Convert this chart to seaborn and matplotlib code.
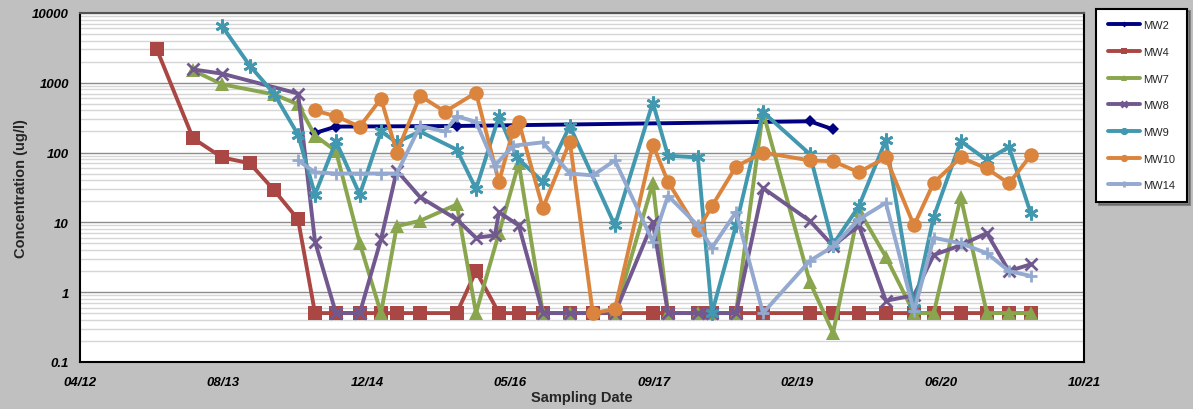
import pandas as pd
import matplotlib
matplotlib.use('Agg')
import matplotlib.pyplot as plt
import matplotlib.dates as mdates
from matplotlib.ticker import LogLocator, FuncFormatter, NullFormatter
import seaborn as sns

# Sampling data (concentration in ug/l)
mw2_dates = ['2014-06-29', '2014-09-10', '2015-11-05', '2019-03-19', '2019-06-08']
mw2_vals = [190, 235, 240, 280, 215]

mw4_dates = ['2012-12-25', '2013-04-30', '2013-08-09', '2013-11-14', '2014-02-06', '2014-05-01',
             '2014-06-29', '2014-09-10', '2014-12-02', '2015-02-14', '2015-04-10', '2015-06-30',
             '2015-11-05', '2016-01-11', '2016-03-31', '2016-06-08', '2016-08-31', '2016-12-03',
             '2017-02-21', '2017-05-09', '2017-09-18', '2017-11-10', '2018-02-22', '2018-04-12',
             '2018-07-05', '2018-10-07', '2019-03-19', '2019-06-08', '2019-09-06', '2019-12-09',
             '2020-03-16', '2020-05-24', '2020-08-26', '2020-11-25', '2021-02-10', '2021-04-27']
mw4_vals = [3000, 160, 85, 70, 29, 11,
            0.5, 0.5, 0.5, 0.5, 0.5, 0.5,
            0.5, 2, 0.5, 0.5, 0.5, 0.5,
            0.5, 0.5, 0.5, 0.5, 0.5, 0.5,
            0.5, 0.5, 0.5, 0.5, 0.5, 0.5,
            0.5, 0.5, 0.5, 0.5, 0.5, 0.5]

mw7_dates = ['2013-04-30', '2013-08-09', '2014-02-06', '2014-05-01', '2014-06-29', '2014-09-10',
             '2014-12-02', '2015-02-14', '2015-04-10', '2015-06-30', '2015-11-05', '2016-01-11',
             '2016-03-31', '2016-06-08', '2016-08-31', '2016-12-03', '2017-05-09', '2017-09-18',
             '2017-11-10', '2018-02-22', '2018-04-12', '2018-07-05', '2018-10-07', '2019-03-19',
             '2019-06-08', '2019-09-06', '2019-12-09', '2020-03-16', '2020-05-24', '2020-08-26',
             '2020-11-25', '2021-02-10', '2021-04-27']
mw7_vals = [1500, 950, 680, 490, 175, 105,
            5, 0.5, 8.8, 10.5, 18, 0.5,
            7, 70, 0.5, 0.5, 0.5, 36,
            0.5, 0.5, 0.5, 0.5, 380, 1.4,
            0.26, 15, 3.2, 0.5, 0.5, 23,
            0.5, 0.5, 0.5]

mw8_dates = ['2013-04-30', '2013-08-09', '2014-05-01', '2014-06-29', '2014-09-10', '2014-12-02',
             '2015-02-14', '2015-04-10', '2015-06-30', '2015-11-05', '2016-01-11', '2016-03-17',
             '2016-03-31', '2016-06-08', '2016-08-31', '2016-12-03', '2017-05-09', '2017-09-18',
             '2017-11-10', '2018-02-22', '2018-04-12', '2018-07-05', '2018-10-07', '2019-03-19',
             '2019-06-08', '2019-09-06', '2019-12-09', '2020-03-16', '2020-05-24', '2020-08-26',
             '2020-11-25', '2021-02-10', '2021-04-27']
mw8_vals = [1550, 1350, 700, 5.3, 0.5, 0.5,
            5.7, 55, 23, 11, 6, 6.5,
            14, 9, 0.5, 0.5, 0.5, 10,
            0.5, 0.5, 0.5, 0.5, 31, 10.5,
            4.6, 9, 0.75, 0.9, 3.4, 4.7,
            7, 2, 2.5]

mw9_dates = ['2013-08-09', '2013-11-14', '2014-02-06', '2014-05-01', '2014-06-29', '2014-09-10',
             '2014-12-02', '2015-02-14', '2015-04-10', '2015-06-30', '2015-11-05', '2016-01-11',
             '2016-03-31', '2016-06-01', '2016-08-31', '2016-12-03', '2017-05-09', '2017-09-18',
             '2017-11-10', '2018-02-22', '2018-04-12', '2018-07-05', '2018-10-07', '2019-03-19',
             '2019-06-08', '2019-09-06', '2019-12-09', '2020-03-16', '2020-05-24', '2020-08-26',
             '2020-11-25', '2021-02-10', '2021-04-27']
mw9_vals = [6500, 1750, 700, 180, 25, 145,
            25, 200, 140, 200, 110, 30,
            330, 85, 38, 240, 9, 520,
            90, 85, 0.5, 9, 380, 95,
            4.8, 17, 150, 0.6, 12, 145,
            78, 120, 13.5]

mw10_dates = ['2014-06-29', '2014-09-10', '2014-12-02', '2015-02-14', '2015-04-10', '2015-06-30',
              '2015-09-25', '2016-01-11', '2016-03-31', '2016-05-19', '2016-06-08', '2016-08-31',
              '2016-12-03', '2017-02-21', '2017-05-09', '2017-09-18', '2017-11-10', '2018-02-22',
              '2018-04-12', '2018-07-05', '2018-10-07', '2019-03-19', '2019-06-08', '2019-09-06',
              '2019-12-09', '2020-03-16', '2020-05-24', '2020-08-26', '2020-11-25', '2021-02-10',
              '2021-04-27']
mw10_vals = [400, 330, 235, 590, 100, 650,
             385, 720, 38, 205, 275, 16,
             143, 0.5, 0.57, 130, 38, 7.7,
             17, 63, 100, 77, 75, 52,
             85, 9, 37, 85, 59, 36,
             91]

mw14_dates = ['2014-05-01', '2014-06-29', '2014-09-10', '2014-12-02', '2015-02-14', '2015-04-10',
              '2015-06-30', '2015-09-25', '2015-11-05', '2016-01-11', '2016-03-17', '2016-05-19',
              '2016-08-31', '2016-12-03', '2017-02-21', '2017-05-09', '2017-09-18', '2017-11-10',
              '2018-02-22', '2018-04-12', '2018-07-05', '2018-10-07', '2019-03-19', '2019-06-08',
              '2019-09-06', '2019-12-09', '2020-03-16', '2020-05-24', '2020-08-26', '2020-11-25',
              '2021-02-10', '2021-04-27']
mw14_vals = [77, 52, 50, 50, 50, 50,
             240, 200, 330, 275, 65, 125,
             140, 50, 47, 77, 5.3, 24,
             9, 4.3, 14, 0.5, 2.8, 4.5,
             11, 19, 0.53, 6, 5, 3.6,
             2, 1.7]

series = [
    ('MW2', mw2_dates, mw2_vals, '#000080', 'D', 6),
    ('MW4', mw4_dates, mw4_vals, '#AA4643', 's', 9.5),
    ('MW7', mw7_dates, mw7_vals, '#89A54E', '^', 9.5),
    ('MW8', mw8_dates, mw8_vals, '#71588F', 'x', 8),
    ('MW9', mw9_dates, mw9_vals, '#4198AF', (6, 2, 0), 10),
    ('MW10', mw10_dates, mw10_vals, '#DB843D', 'o', 10.5),
    ('MW14', mw14_dates, mw14_vals, '#93A9CF', '+', 9),
]

sns.set_style('white')
plt.rcParams['font.family'] = ['Liberation Sans Narrow', 'Liberation Sans', 'DejaVu Sans']

fig = plt.figure(figsize=(11.93, 4.10), dpi=100, facecolor='#c0c0c0')
ax = fig.add_axes([0.067, 0.115, 0.842, 0.851])
ax.set_facecolor('white')

for name, dates, vals, color, marker, msize in series:
    df = pd.DataFrame({'date': pd.to_datetime(dates), 'conc': vals})
    sns.lineplot(data=df, x='date', y='conc', ax=ax, color=color, marker=marker,
                 markersize=msize, markeredgewidth=2 if marker in ('x', '+', (6, 2, 0)) else 0,
                 markeredgecolor=color, linewidth=2.8, label=name, estimator=None)

ax.set_yscale('log')
ax.set_ylim(0.1, 10000)
ax.yaxis.set_major_locator(LogLocator(base=10, numticks=10))
ax.yaxis.set_minor_locator(LogLocator(base=10, subs=[2, 3, 4, 5, 6, 7, 8, 9], numticks=20))
ax.yaxis.set_major_formatter(FuncFormatter(lambda v, p: f'{v:g}'))
ax.yaxis.set_minor_formatter(NullFormatter())
ax.grid(which='major', axis='y', color='#8c8c8c', lw=1)
ax.grid(which='minor', axis='y', color='#d6d6d6', lw=1)
ax.grid(which='major', axis='x', visible=False)

ticks = pd.date_range('2012-04-01', periods=8, freq='500D')
ax.set_xlim(ticks[0], ticks[-1])
ax.set_xticks(ticks)
ax.xaxis.set_major_formatter(mdates.DateFormatter('%m/%y'))

ax.tick_params(axis='both', which='major', direction='inout', length=9, width=1.5,
               labelsize=9.5, colors='black')
ax.tick_params(axis='y', which='minor', length=0)
for lbl in ax.get_xticklabels() + ax.get_yticklabels():
    lbl.set_fontweight('bold')
    lbl.set_fontstyle('italic')
ax.tick_params(axis='x', pad=6)

for s in ax.spines.values():
    s.set_visible(True)
    s.set_color('black')
    s.set_linewidth(1.5)
ax.spines['top'].set_color('#555555')

ax.set_xlabel('Sampling Date', fontsize=10.5, fontweight='bold',
              family=['Liberation Sans', 'DejaVu Sans'])
ax.set_ylabel('Concentration (ug/l)', fontsize=10.5, fontweight='bold',
              family=['Liberation Sans', 'DejaVu Sans'])
ax.xaxis.set_label_coords(0.5, -0.08)
ax.yaxis.set_label_coords(-0.052, 0.5)

leg = ax.legend(loc='upper left', bbox_to_anchor=(0.914, 0.99), bbox_transform=fig.transFigure,
                frameon=True, fancybox=False, shadow=True, markerscale=0.5,
                labelspacing=1.5, handlelength=2.9, borderpad=1.05, handletextpad=0.3,
                prop={'family': ['Liberation Sans', 'DejaVu Sans'], 'size': 8})
leg.get_frame().set_edgecolor('black')
leg.get_frame().set_linewidth(1.5)

fig.savefig('out.png', dpi=100, facecolor=fig.get_facecolor())
